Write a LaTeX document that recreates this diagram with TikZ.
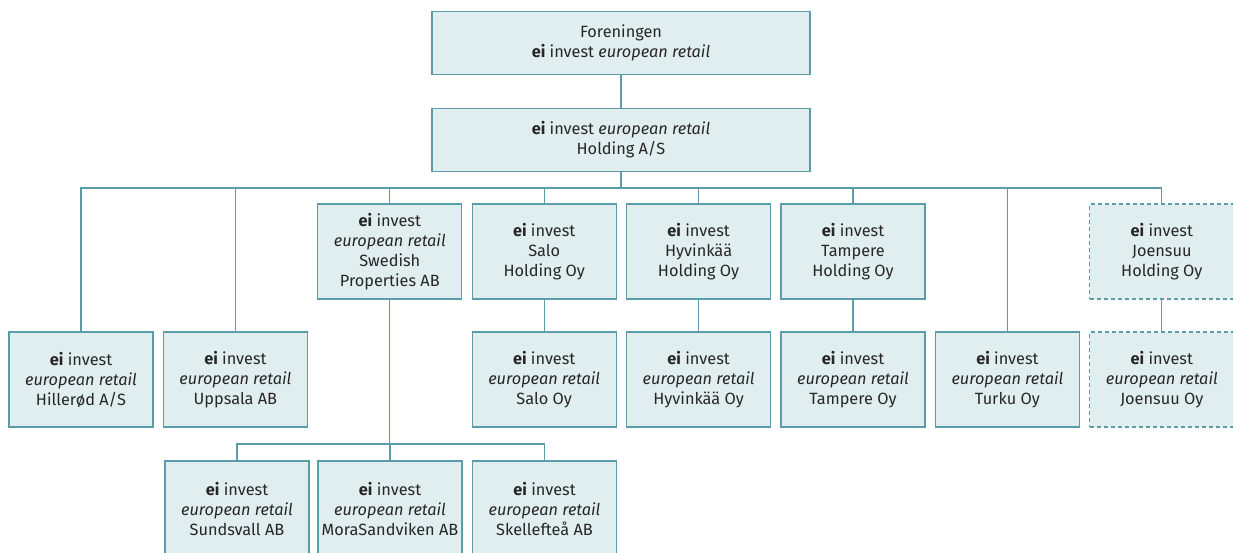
\documentclass[tikz,border=0pt]{standalone}
\usepackage{fontspec}
\setmainfont{Fira Sans}
\usetikzlibrary{positioning}
\definecolor{orgFill}{HTML}{E1EEF0}
\definecolor{orgLine}{HTML}{5A9CA7}
\definecolor{orgInk}{HTML}{262626}
\tikzset{
  org chart/.style={x=1pt, y=-1pt, text=orgInk,
    font=\fontsize{16.3}{20}\selectfont},
  org box/.style={draw=orgLine, fill=orgFill, line width=1.2pt,
    align=center, inner sep=0pt, minimum width=144pt, minimum height=95pt},
  org wide/.style={org box, minimum width=378pt, minimum height=63pt},
  org planned/.style={org box, dash pattern=on 4pt off 3pt},
  org link/.style={draw=orgLine, line width=1.2pt}
}
\newcommand{\einame}{\textbf{ei} invest}
\newcommand{\eiretail}{\textit{european retail}}

\begin{document}
\begin{tikzpicture}[org chart]
\useasboundingbox (0,0) rectangle (1233,552);
\clip (0,0) rectangle (1233,552);
\coordinate (bus) at (621,188);
\coordinate (swbus) at (390,444);
\node[org wide] (forening) at (621,43) {Foreningen\\\einame{} \eiretail};
\node[org wide] (holding) at (621,140) {\einame{} \eiretail\\Holding A/S};
\draw[org link] (forening) -- (holding);
% owned directly by the holding
\foreach \name/\cx/\city in {hil/81/{Hillerød A/S},upp/235.4/{Uppsala AB},tur/1007.4/{Turku Oy}}{
  \node[org box] (\name) at (\cx,379.5) {\einame\\\eiretail\\\city};
  \draw[org link] (holding.south) |- (bus -| \name) -- (\name.north);
}
% swedish branch
\node[org box] (swe) at (389.8,251.5) {\einame\\\eiretail\\Swedish\\Properties AB};
\draw[org link] (holding.south) |- (bus -| swe) -- (swe.north);
\foreach \name/\cx/\city in {sun/237/{Sundsvall AB},mor/390/{MoraSandviken AB},ske/544.5/{Skellefteå AB}}{
  \node[org box] (\name) at (\cx,508.5) {\einame\\\eiretail\\\city};
  \draw[org link] (swe.south) |- (swbus -| \name) -- (\name.north);
}
% finnish holdings
\foreach \name/\cx/\city in {salo/544.2/Salo,hyv/698.6/Hyvinkää,tam/853/Tampere}{
  \node[org box] (\name hold) at (\cx,251.5) {\einame\\\city\\Holding Oy};
  \node[org box] (\name oy) at (\cx,379.5) {\einame\\\eiretail\\\city{} Oy};
  \draw[org link] (holding.south) |- (bus -| \name hold) -- (\name hold.north);
  \draw[org link] (\name hold) -- (\name oy);
}
\node[org planned] (joehold) at (1161.8,251.5) {\einame\\Joensuu\\Holding Oy};
\node[org planned] (joeoy) at (1161.8,379.5) {\einame\\\eiretail\\Joensuu Oy};
\draw[org link] (holding.south) |- (bus -| joehold) -- (joehold.north);
\draw[org link] (joehold) -- (joeoy);
\end{tikzpicture}
\end{document}
